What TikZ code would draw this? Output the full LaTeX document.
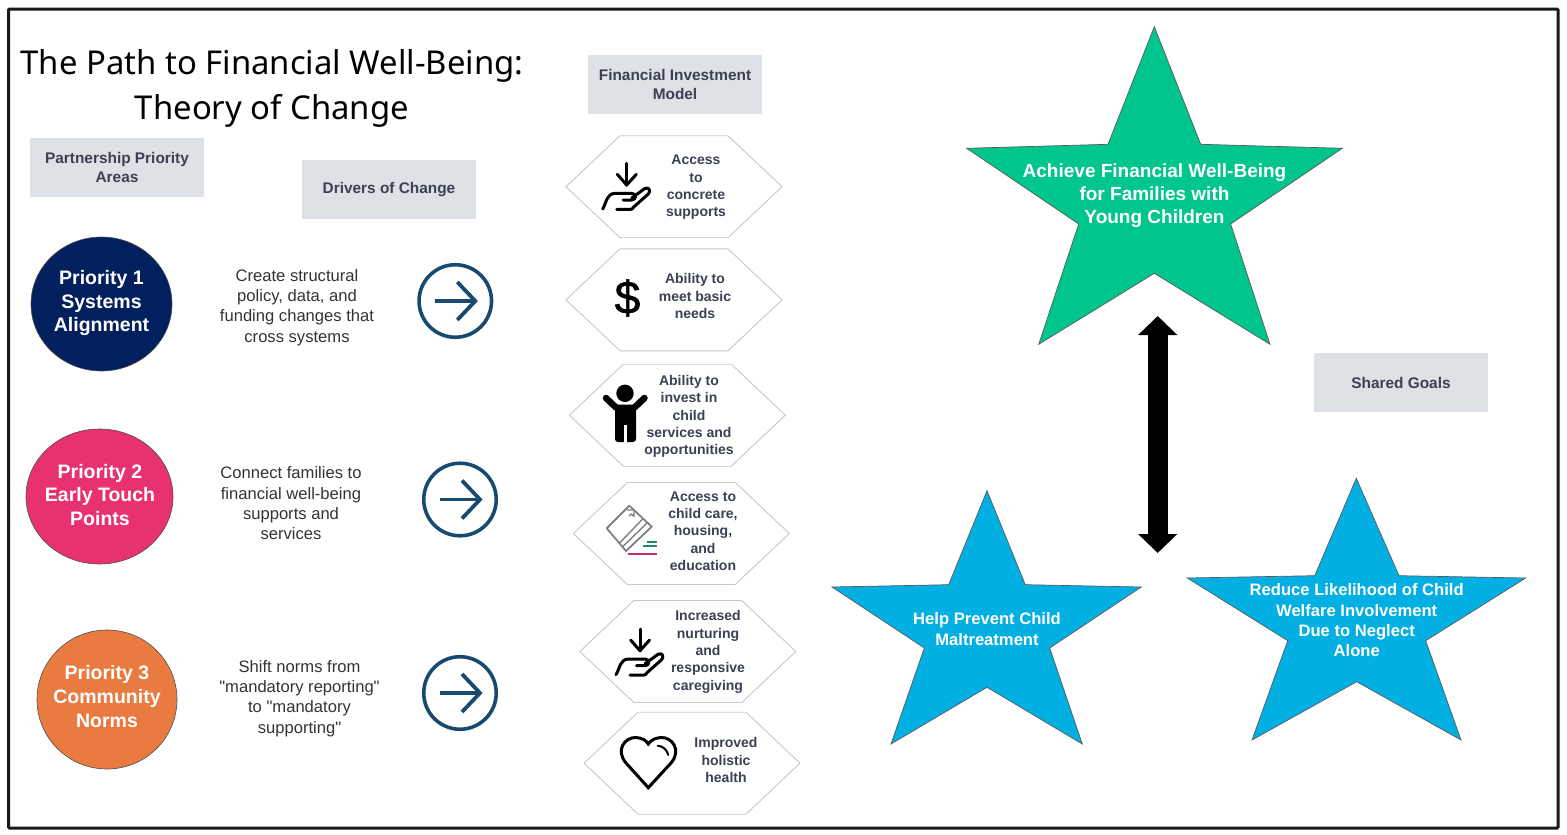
\documentclass[tikz,border=0pt]{standalone}
\usepackage{fontspec}
\setmainfont{Liberation Sans}
\newfontfamily\titlefont{Noto Sans}
\newfontfamily\driverfont{Liberation Sans}
\newfontfamily\dollarfont{Liberation Sans}[FakeBold=1.4]
\usetikzlibrary{arrows.meta,positioning,shapes.geometric,shapes.symbols}
\definecolor{labelink}{HTML}{3A4152}
\definecolor{driverink}{HTML}{333333}
\definecolor{greybox}{HTML}{DEE1E6}
\definecolor{navyfill}{HTML}{03205E}
\definecolor{pinkfill}{HTML}{E8326F}
\definecolor{orangefill}{HTML}{E97B41}
\definecolor{arrowblue}{HTML}{174A6E}
\definecolor{greenstar}{HTML}{00C58C}
\definecolor{bluestar}{HTML}{02AFE3}
\definecolor{tealmark}{HTML}{1F8A70}
\definecolor{pinkmark}{HTML}{C2315F}
\tikzset{
	handicon/.pic={
		\draw[iconline] (0,-21.7) -- (0,0);
		\draw[iconline] (-9.4,-10.7) -- (0,0) -- (9.6,-10.7);
		\draw[iconline] (-24,24) .. controls (-20,17) and (-20,9) .. (-12,8.3)
			-- (5,8.3) .. controls (10,8.5) and (10,15) .. (5,15) -- (-3.5,15);
		\draw[iconline] (5,13) -- (18,3.6) .. controls (23,1) and (24,7) .. (21.6,9)
			-- (7,22) .. controls (6,24) and (5,24.3) .. (4,24.3) -- (-10,24.3);
	},
}
\begin{document}
\begin{tikzpicture}[
		x=1pt,
		y=-1pt,
		greybox/.style={
			shape=rectangle,
			fill=greybox,
			minimum width=174pt,
			minimum height=59.5pt,
			inner sep=0pt,
			text=labelink,
			align=center,
			font=\bfseries\fontsize{15.4}{18.8}\selectfont,
		},
		priority/.style={
			shape=ellipse,
			draw=black!70,
			line width=0.6pt,
			inner sep=0pt,
		},
		prioritytext/.style={
			inner sep=0pt,
			text=white,
			align=center,
			font=\bfseries\fontsize{19.5}{23.8}\selectfont,
		},
		driver/.style={
			text=driverink,
			align=center,
			inner sep=0pt,
			font=\driverfont\fontsize{16.6}{20.3}\selectfont,
		},
		hexbox/.style={
			shape=signal,
			signal to=west and east,
			signal pointer angle=86.7,
			draw=black!22,
			line width=0.9pt,
			fill=white,
			minimum width=216pt,
			minimum height=102pt,
			inner sep=0pt,
		},
		hexlabel/.style={
			text=labelink,
			align=center,
			inner sep=0pt,
			font=\bfseries\fontsize{14}{17.3}\selectfont,
		},
		goalstar/.style={draw=black!65,line width=0.7pt,line join=miter},
		goallabel/.style={
			text=white,
			align=center,
			inner sep=0pt,
			font=\bfseries\fontsize{16.6}{20.3}\selectfont,
		},
		drivercircle/.style={
			shape=circle,
			draw=arrowblue,
			line width=3.6pt,
			minimum size=72.5pt,
			inner sep=0pt,
		},
		driverarrow/.style={draw=arrowblue,line width=3.8pt},
		iconline/.style={draw=black,line width=3pt,line cap=round,line join=round},
	]
	\useasboundingbox (0,0) rectangle (1567,835);
	\draw[line width=3pt,draw=black!90,rounded corners=1pt] (8.5,9) rectangle (1558,828);

	% title and column headings
	\node[align=center,inner sep=0pt,font=\titlefont\fontsize{32.85}{45}\selectfont] (title) at (272,88.5)
		{The Path to Financial Well-Being:\\Theory of Change};
	\node[greybox] (areas) at (117,167.5) {Partnership Priority\\Areas};
	\node[greybox] (drivers) at (389,189.5) {Drivers of Change};
	\node[greybox] (model) at (675,84.5) {Financial Investment\\Model};
	\node[greybox] (goals) at (1401,382.5) {Shared Goals};

	% priorities
	\node[priority,fill=navyfill,minimum width=141pt,minimum height=134pt] (prioa) at (101.5,304) {};
	\node[priority,fill=pinkfill,minimum width=147pt,minimum height=135pt] (priob) at (99.5,496.5) {};
	\node[priority,fill=orangefill,minimum width=140pt,minimum height=139pt] (prioc) at (107,699.5) {};
	\node[prioritytext] (prioatext) at (101.5,303) {Priority 1\\Systems\\Alignment};
	\node[prioritytext] (priobtext) at (100,495) {Priority 2\\Early Touch\\Points};
	\node[prioritytext] (prioctext) at (107,696.5) {Priority 3\\Community\\Norms};

	\node[driver] (drivea) at (297,307.5)
		{Create structural\\policy, data, and\\funding changes that\\cross systems};
	\node[driver] (driveb) at (291,503.5)
		{Connect families to\\financial well-being\\supports and\\services};
	\node[driver] (drivec) at (299.5,698.5)
		{Shift norms from\\"mandatory reporting"\\to "mandatory\\supporting"};

	\foreach \arrowname/\arrowx/\arrowy in {arrowa/455.3/301,arrowb/460/499.5,arrowc/460/693} {
		\node[drivercircle] (\arrowname) at (\arrowx,\arrowy) {};
		\draw[driverarrow] ([xshift=-20pt]\arrowname.center) -- ([xshift=19pt]\arrowname.center);
		\draw[driverarrow] ([shift={(2,-19)}]\arrowname.center) -- ([xshift=20pt]\arrowname.center)
			-- ([shift={(2,19)}]\arrowname.center);
	}

	% investment model
	\node[hexbox] (hexa) at (674,186.7) {};
	\node[hexbox] (hexb) at (674,299.8) {};
	\node[hexbox] (hexc) at (677.3,415.2) {};
	\node[hexbox] (hexd) at (681.3,533.5) {};
	\node[hexbox] (hexe) at (687.8,651.5) {};
	\node[hexbox] (hexf) at (692,763.2) {};

	\node[hexlabel] (texta) at (696,187.5) {Access\\to\\concrete\\supports};
	\node[hexlabel] (textb) at (695,296) {Ability to\\meet basic\\needs};
	\node[hexlabel] (textc) at (689,416.5) {Ability to\\invest in\\child\\services and\\opportunities};
	\node[hexlabel] (textd) at (703,531) {Access to\\child care,\\housing,\\and\\education};
	\node[hexlabel] (texte) at (708,652) {Increased\\nurturing\\and\\responsive\\caregiving};
	\node[hexlabel] (textf) at (726,760) {Improved\\holistic\\health};

	\pic at (626.7,185) {handicon};
	\pic at (640,650.7) {handicon};

	\node[inner sep=0pt,font=\dollarfont\fontsize{46}{46}\selectfont] (dollar) at (627.5,298) {\$};

	% child
	\node[circle,fill=black,minimum size=17.4pt,inner sep=0pt] (childhead) at (625,393.3) {};
	\draw[line width=6.5pt,line cap=round] (606,398) -- (616,407.5);
	\draw[line width=6.5pt,line cap=round] (644.5,398) -- (634.5,407.5);
	\fill[rounded corners=3pt] (615,404.5) rectangle (636,442);
	\draw[white,line width=2.2pt] (625.5,425) -- (625.5,442.5);

	% housing mark
	\draw[draw=black!50,line width=1.8pt,line join=round] (629.3,505.7) -- (651.7,526.7) -- (626,551) -- (606.7,528.3) -- cycle;
	\draw[draw=black!50,line width=1.4pt] (619.3,543.3) -- (643.3,518.3) (622.7,546.7) -- (647.3,522.7);
	\draw[draw=black!50,line width=1.4pt] (627,510) -- (634,510) -- (634,516) -- (631,514) -- (629,516);
	\draw[draw=tealmark,line width=1.6pt] (647.3,541.7) -- (656.7,541.7) (643.3,546) -- (656.7,546);
	\draw[draw=pinkmark,line width=1.8pt] (627.7,554.3) -- (656.7,554.3);

	% heart
	\draw[iconline,line join=miter] (648.3,787.7) -- (626,763)
		.. controls (615,750) and (625,737) .. (636,737.5)
		.. controls (642,738) and (646,740) .. (648.3,744)
		.. controls (651,740) and (655,738) .. (661,737.5)
		.. controls (672,737) and (682,750) .. (671,763) -- cycle;
	\draw[draw=black,line width=2pt,line cap=round] (657.7,745.7) .. controls (663,746) and (667,750) .. (668.3,755);

	% goals
	\draw[goalstar,fill=greenstar] (1154.3,26.7) -- (1200.7,144.3) -- (1342.3,148.3) -- (1230.7,224) -- (1270,344.3)
		-- (1154.3,273.3) -- (1038.7,344.3) -- (1078.7,224) -- (966.7,148.3) -- (1108,144.3) -- cycle;
	\draw[goalstar,fill=bluestar] (987,490.7) -- (1025.3,584.7) -- (1141.3,587) -- (1049.7,648) -- (1082.3,744)
		-- (987,687.3) -- (891,744) -- (924.3,648) -- (832,587) -- (948.7,584.7) -- cycle;
	\draw[goalstar,fill=bluestar] (1356.3,478.3) -- (1399,575.7) -- (1525.7,578) -- (1425.7,640.7) -- (1461,740)
		-- (1356.7,681.7) -- (1252,740) -- (1287.7,640.7) -- (1187.3,578) -- (1314.7,575.7) -- cycle;

	\node[goallabel,font=\bfseries\fontsize{19}{23}\selectfont] (wellbeing) at (1154.5,196)
		{Achieve Financial Well-Being\\for Families with\\Young Children};
	\node[goallabel] (prevent) at (987,629) {Help Prevent Child\\Maltreatment};
	\node[goallabel] (reduce) at (1356.7,620.5)
		{Reduce Likelihood of Child\\Welfare Involvement\\Due to Neglect\\Alone};

	\coordinate (linktop) at (1157.7,316);
	\coordinate (linkbottom) at (1157.7,553);
	\draw[{Triangle[length=19pt,width=38pt]}-{Triangle[length=19pt,width=38pt]},line width=20pt]
		(linktop) -- (linkbottom);
\end{tikzpicture}
\end{document}
